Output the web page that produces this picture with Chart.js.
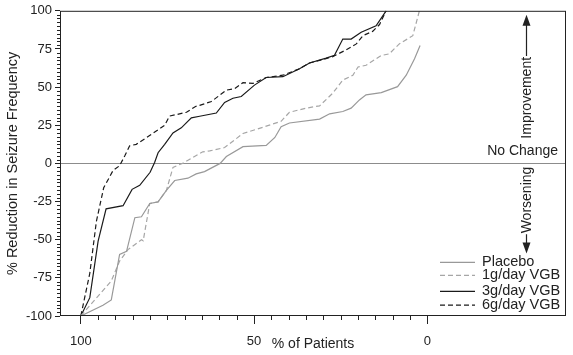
<!DOCTYPE html>
<html><head><meta charset="utf-8">
<script src="https://cdn.jsdelivr.net/npm/chart.js@4/dist/chart.umd.min.js"></script>
<style>html,body{margin:0;padding:0;background:#fff;}canvas{display:block;}</style>
</head><body>
<canvas id="c" width="573" height="355"></canvas>
<script>
// ---- data ----
const xTickLabels = [100, 50, 0];
const yTickLabels = [-100, -75, -50, -25, 0, 25, 50, 75, 100];
const seriesNames = ['Placebo', '1g/day VGB', '3g/day VGB', '6g/day VGB'];

const placeboPct = [100, 93.6, 91.2, 88.8, 86.8, 84.4, 82.5, 80.1, 77.7, 75.3, 72.9, 69.1, 66.7, 64.3, 59.8, 58, 53.2, 46.5, 44, 42.2, 39.8, 31.1, 28.2, 24.4, 22, 19.6, 17.7, 13.3, 8.6, 6.1, 3.7, 2.1];
const placeboRed = [-100, -93, -89.5, -59.7, -57.6, -35.6, -35, -26.3, -25.2, -17.7, -11.2, -9.7, -6.9, -5.4, 0, 4.5, 11, 11.8, 17, 24, 26.5, 29, 32.5, 34, 36.2, 41.6, 44.9, 46.4, 50.3, 57.8, 68.6, 77.2];

const g1Pct = [100, 91.2, 88.8, 86.4, 82.5, 82, 80.1, 77.7, 75.3, 73.4, 70.5, 64.8, 62.8, 58.5, 53.2, 46.5, 42.2, 39.8, 35, 31.1, 27.3, 24.4, 21.5, 20, 17.7, 13.3, 11, 8.1, 4.2, 2.3];
const g1Red = [-100, -77, -64, -56.5, -50, -50.7, -26.3, -25.2, -17.7, -2.6, 0.2, 7.6, 8.2, 10.4, 19.6, 24.4, 27.6, 33.5, 36.2, 37.7, 46, 54.6, 57.8, 63.2, 64.3, 70.7, 71.8, 78.3, 83.7, 100];

const g3Pct = [100, 97.4, 95, 92.7, 87.8, 85.2, 83, 80, 78.7, 77.7, 75.8, 73.4, 71, 68.1, 65.7, 60.9, 58.5, 56.1, 53.7, 49.9, 46.5, 41.7, 36.9, 34, 29.2, 26.8, 24.4, 22, 19.1, 14.8, 11.9];
const g3Red = [-100, -88, -51, -29.8, -27.7, -17, -14.4, -5.8, 0.6, 7, 12.5, 20, 23.3, 29.8, 30.9, 33, 40, 42.7, 43.8, 51.3, 56.3, 56.8, 62, 65.8, 69, 70.8, 81.5, 81.5, 85.9, 90.2, 100];

const g6Pct = [100, 97.4, 95.5, 93.4, 90.7, 88.8, 87.3, 85.9, 84, 81, 77.7, 75.8, 74.4, 72.4, 69.5, 66.9, 65.7, 62.3, 58, 55.6, 53.2, 50.3, 46.5, 41.7, 36.9, 34, 30.2, 27.3, 23.4, 20.5, 18.6, 15.8, 13.8, 11.9];
const g6Red = [-100, -72, -38, -16, -4.7, -1.5, 5, 11.5, 12.5, 17, 22, 25, 31, 32, 33.5, 37.3, 38, 40.6, 48, 49, 52.9, 52.4, 56.3, 57.8, 62, 65.8, 68, 70, 74.4, 78.3, 83.7, 86.5, 91, 100];

const pts = (xs, ys) => xs.map((v, i) => ({x: v, y: ys[i]}));
const FONT = "'Liberation Sans', Arial, Helvetica, sans-serif";
const INK = '#222';

const annotPlugin = {
  id: 'annot',
  afterDraw(chart) {
    const {ctx, chartArea: a, scales: {x, y}} = chart;
    ctx.save();
    // frame
    ctx.strokeStyle = INK; ctx.lineWidth = 1;
    ctx.strokeRect(a.left + 0.5, a.top + 0.5, a.right - a.left - 1, a.bottom - a.top - 1);
    // minor ticks
    ctx.beginPath();
    for (let v = -100; v <= 100; v += 2.5) {
      if (v % 25 === 0) continue;
      const py = Math.round(y.getPixelForValue(v)) + 0.5;
      ctx.moveTo(a.left - 3, py); ctx.lineTo(a.left, py);
    }
    for (let v = 5; v <= 95; v += 5) {
      if (v === 50) continue;
      const px = Math.round(x.getPixelForValue(v)) + 0.5;
      ctx.moveTo(px, a.bottom); ctx.lineTo(px, a.bottom + 4);
    }
    ctx.stroke();

    // right side annotations
    const ax = a.right - 39.5;
    ctx.fillStyle = INK;
    ctx.font = '14px ' + FONT;
    ctx.textAlign = 'right'; ctx.textBaseline = 'middle';
    ctx.fillText('No Change', a.right - 8, y.getPixelForValue(0) - 12);
    const impY = y.getPixelForValue(43);
    const worY = y.getPixelForValue(-24);
    ctx.save();
    ctx.translate(ax + 1, impY); ctx.rotate(-Math.PI / 2);
    ctx.textAlign = 'center'; ctx.textBaseline = 'middle';
    ctx.fillText('Improvement', 0, 0);
    ctx.restore();
    ctx.save();
    ctx.translate(ax + 1, worY); ctx.rotate(-Math.PI / 2);
    ctx.textAlign = 'center'; ctx.textBaseline = 'middle';
    ctx.fillText('Worsening', 0, 0);
    ctx.restore();
    const impW = ctx.measureText('Improvement').width;
    const worW = ctx.measureText('Worsening').width;
    ctx.strokeStyle = INK; ctx.lineWidth = 1.2;
    const upTip = a.top + 4, downTip = y.getPixelForValue(-59);
    ctx.beginPath();
    ctx.moveTo(ax, impY - impW / 2 - 1); ctx.lineTo(ax, upTip + 8);
    ctx.moveTo(ax, worY + worW / 2 + 1); ctx.lineTo(ax, downTip - 8);
    ctx.stroke();
    ctx.beginPath();
    ctx.moveTo(ax, upTip); ctx.lineTo(ax - 4, upTip + 11); ctx.lineTo(ax + 4, upTip + 11); ctx.closePath();
    ctx.moveTo(ax, downTip); ctx.lineTo(ax - 4, downTip - 11); ctx.lineTo(ax + 4, downTip - 11); ctx.closePath();
    ctx.fill();

    // legend
    ctx.font = '14.5px ' + FONT;
    const rows = [y.getPixelForValue(-64.5), y.getPixelForValue(-73), y.getPixelForValue(-83.5), y.getPixelForValue(-92.5)];
    const lx0 = a.right - 126, lx1 = a.right - 91, tx = a.right - 84;
    chart.data.datasets.forEach((ds, i) => {
      ctx.save();
      ctx.strokeStyle = ds.borderColor; ctx.lineWidth = ds.borderWidth;
      ctx.setLineDash(ds.borderDash || []);
      ctx.beginPath();
      ctx.moveTo(lx0, rows[i] + 0.5); ctx.lineTo(lx1, rows[i] + 0.5);
      ctx.stroke();
      ctx.restore();
      ctx.fillStyle = INK; ctx.textAlign = 'left'; ctx.textBaseline = 'middle';
      ctx.fillText(ds.label, tx, rows[i]);
    });
    ctx.restore();
  }
};

new Chart(document.getElementById('c'), {
  type: 'line',
  data: {
    datasets: [
      {label: seriesNames[0], data: pts(placeboPct, placeboRed), borderColor: '#999999', borderWidth: 1.2},
      {label: seriesNames[1], data: pts(g1Pct, g1Red), borderColor: '#a6a6a6', borderWidth: 1.2, borderDash: [5, 3]},
      {label: seriesNames[2], data: pts(g3Pct, g3Red), borderColor: '#1a1a1a', borderWidth: 1.2},
      {label: seriesNames[3], data: pts(g6Pct, g6Red), borderColor: '#1a1a1a', borderWidth: 1.2, borderDash: [5, 3]}
    ]
  },
  options: {
    responsive: false,
    animation: false,
    devicePixelRatio: 1,
    layout: {padding: {top: 7, right: 7, left: 0, bottom: 0}},
    elements: {point: {radius: 0, hoverRadius: 0}, line: {tension: 0, fill: false}},
    plugins: {legend: {display: false}, tooltip: {enabled: false}},
    scales: {
      x: {
        type: 'linear', reverse: true, min: -40, max: 106,
        afterBuildTicks: s => { s.ticks = xTickLabels.map(v => ({value: v})); },
        afterFit: s => { s.height = 39; },
        ticks: {color: INK, font: {size: 13, family: FONT}, padding: 10, maxRotation: 0, autoSkip: false},
        grid: {drawOnChartArea: false, tickLength: 8, tickColor: INK, tickWidth: 1},
        border: {display: false},
        title: {display: true, text: '% of Patients', color: INK, font: {size: 14, family: FONT}, padding: {top: 0, bottom: 2}}
      },
      y: {
        min: -100, max: 100,
        afterBuildTicks: s => { s.ticks = yTickLabels.map(v => ({value: v})); },
        afterFit: s => { s.width = 60; },
        ticks: {color: INK, font: {size: 13, family: FONT}, padding: 3},
        grid: {
          drawOnChartArea: true, tickLength: 5, tickColor: INK, tickWidth: 1,
          color: c => (c.tick && c.tick.value === 0) ? '#8c8c8c' : 'rgba(0,0,0,0)',
          lineWidth: 1
        },
        border: {display: false},
        title: {display: true, text: '% Reduction in Seizure Frequency', color: INK, font: {size: 14.5, family: FONT}, padding: {top: 4, bottom: 0}}
      }
    }
  },
  plugins: [annotPlugin]
});
</script>
</body></html>
